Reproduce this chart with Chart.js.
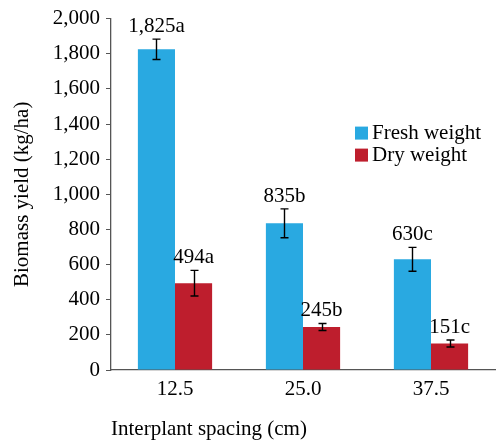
<!DOCTYPE html>
<html>
<head>
<meta charset="utf-8">
<script src="https://cdn.jsdelivr.net/npm/chart.js@4/dist/chart.umd.min.js"></script>
<style>
  html, body { margin: 0; padding: 0; background: #fff; }
  #wrap { width: 496px; height: 442px; position: relative; }
</style>
</head>
<body>
<div id="wrap"><canvas id="c"></canvas></div>
<script>
// data
var spacings = ["12.5", "25.0", "37.5"];
var freshWeight = [1825, 835, 630];
var dryWeight = [494, 245, 151];
var freshErr = [58, 82, 68];
var dryErr = [73, 20, 20];
var freshLetters = ["a", "b", "c"];
var dryLetters = ["a", "b", "c"];
var yTicks = [0, 200, 400, 600, 800, 1000, 1200, 1400, 1600, 1800, 2000];

var FONT = "'Liberation Serif', 'Times New Roman', serif";
var BLUE = "#29a9e1";
var RED = "#be1e2d";

var errorBars = {
  id: "errorBars",
  afterDatasetsDraw: function (chart) {
    var ctx = chart.ctx;
    var y = chart.scales.y;
    ctx.save();
    ctx.strokeStyle = "#000";
    ctx.lineWidth = 1.4;
    ctx.fillStyle = "#000";
    ctx.font = "21px " + FONT;
    ctx.textAlign = "center";
    ctx.textBaseline = "alphabetic";
    chart.data.datasets.forEach(function (ds, di) {
      var meta = chart.getDatasetMeta(di);
      meta.data.forEach(function (bar, i) {
        var v = ds.data[i];
        var e = ds.err[i];
        var top = y.getPixelForValue(v + e);
        var bot = y.getPixelForValue(v - e);
        var x = Math.round(bar.x) + 0.5;
        ctx.beginPath();
        ctx.moveTo(x, top);
        ctx.lineTo(x, bot);
        ctx.moveTo(x - 4, top);
        ctx.lineTo(x + 4, top);
        ctx.moveTo(x - 4, bot);
        ctx.lineTo(x + 4, bot);
        ctx.stroke();
        ctx.fillText(v.toLocaleString("en-US") + ds.letters[i], bar.x, top - 7);
      });
    });
    ctx.restore();
  }
};

var boxLegend = {
  id: "boxLegend",
  afterDraw: function (chart) {
    var ctx = chart.ctx;
    var area = chart.chartArea;
    var x0 = area.left + 244;
    var y0 = area.top + 108;
    ctx.save();
    ctx.font = "21px " + FONT;
    ctx.textBaseline = "middle";
    ctx.textAlign = "left";
    chart.data.datasets.forEach(function (ds, i) {
      var yy = y0 + i * 22;
      ctx.fillStyle = ds.backgroundColor;
      ctx.fillRect(x0, yy, 13, 13);
      ctx.fillStyle = "#000";
      ctx.fillText(ds.label, x0 + 17, yy + 7);
    });
    ctx.restore();
  }
};

new Chart(document.getElementById("c"), {
  type: "bar",
  data: {
    labels: spacings,
    datasets: [
      { label: "Fresh weight", data: freshWeight, err: freshErr, letters: freshLetters, backgroundColor: BLUE },
      { label: "Dry weight", data: dryWeight, err: dryErr, letters: dryLetters, backgroundColor: RED }
    ]
  },
  options: {
    responsive: true,
    maintainAspectRatio: false,
    animation: false,
    events: [],
    layout: { padding: { top: 16, right: 1, left: 0, bottom: 0 } },
    datasets: { bar: { categoryPercentage: 0.58, barPercentage: 1.0 } },
    plugins: { legend: { display: false }, tooltip: { enabled: false } },
    scales: {
      x: {
        grid: { display: false, drawTicks: false },
        border: { color: "#555", width: 1.3 },
        ticks: { color: "#000", font: { family: FONT, size: 21 }, padding: 7 },
        title: { display: true, text: "Interplant spacing (cm)", align: "start", color: "#000",
                 font: { family: FONT, size: 21 }, padding: { top: 14, bottom: 0 } },
        afterFit: function (s) { s.height = 72; }
      },
      y: {
        min: 0,
        max: 2000,
        afterBuildTicks: function (s) { s.ticks = yTicks.map(function (v) { return { value: v }; }); },
        grid: { drawOnChartArea: false, tickLength: 5, color: "#555" },
        border: { color: "#555", width: 1.3 },
        ticks: { color: "#000", font: { family: FONT, size: 21 }, padding: 6,
                 callback: function (v) { return v.toLocaleString("en-US"); } },
        title: { display: true, text: "Biomass yield (kg/ha)", color: "#000",
                 font: { family: FONT, size: 21 }, padding: { top: 10, bottom: 4 } },
        afterFit: function (s) { s.width = 111; }
      }
    }
  },
  plugins: [errorBars, boxLegend]
});
</script>
</body>
</html>
